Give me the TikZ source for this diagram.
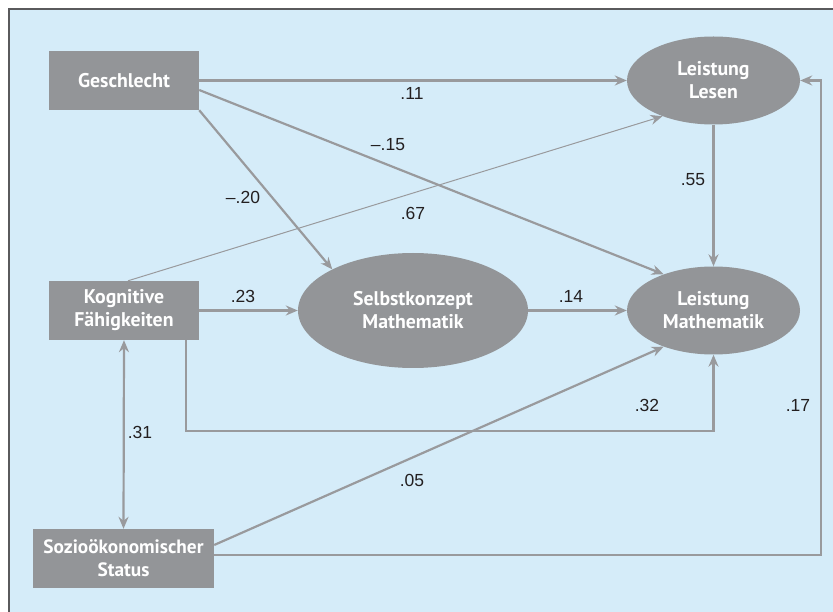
\documentclass[tikz,border=0pt]{standalone}
\usepackage{fontspec}
\setmainfont{Liberation Sans}
\newfontfamily\boxfont{PT Sans}
\usetikzlibrary{arrows.meta,shapes.geometric,calc}

\definecolor{bgblue}{HTML}{D5ECF9}
\definecolor{boxgray}{HTML}{939598}
\definecolor{linegray}{HTML}{999A9D}
\definecolor{numgray}{HTML}{231F20}
\definecolor{framegray}{HTML}{5A5A5C}

\tikzset{
  var/.style={rectangle, fill=boxgray, minimum width=150pt, minimum height=59pt,
    inner sep=0pt, text=white, align=center,
    font=\boxfont\bfseries\fontsize{19.8}{23}\selectfont},
  latent/.style={ellipse, fill=boxgray, inner sep=0pt, text=white, align=center,
    font=\boxfont\bfseries\fontsize{19.8}{23}\selectfont},
  effect/.style={draw=linegray, line width=2.2pt, ->},
  thineffect/.style={draw=linegray, line width=1pt, ->},
  coef/.style={text=numgray, inner sep=0pt, font=\fontsize{17.5}{20}\selectfont}
}

\begin{document}
\begin{tikzpicture}[x=1pt,y=-1pt,>={Stealth[length=12pt,width=10pt,inset=4pt]}]
  \useasboundingbox (0,0) rectangle (833,612);
  \fill[white] (0,0) rectangle (833,612);
  \fill[bgblue] (9,9) rectangle (833,612);
  \draw[framegray, line width=1.5pt] (9,612) -- (9,9) -- (833,9);

  % beobachtete Variablen
  \node[var] (ges) at (124,80.5) {Geschlecht};
  \node[var] (kog) at (124,310.5) {Kognitive\\Fähigkeiten};
  \node[var, minimum width=181pt, font=\boxfont\bfseries\fontsize{19.3}{23}\selectfont] (soz) at (123.5,558.5) {Sozioökonomischer\\Status};

  % latente Variablen
  \node[latent, minimum width=230pt, minimum height=115pt] (sel) at (413,310.5) {Selbstkonzept\\Mathematik};
  \node[latent, minimum width=173pt, minimum height=88pt] (les) at (713.5,80.5) {Leistung\\Lesen};
  \node[latent, minimum width=173pt, minimum height=88pt] (mat) at (713.5,310.5) {Leistung\\Mathematik};

  % Pfade
  \draw[effect] (ges.east) -- (les.west);
  \draw[effect] ([yshift=-9.5pt]ges.east) -- (mat.144);
  \draw[effect] (ges.south east) -- (sel.153);
  \draw[thineffect] ([xshift=4pt]kog.north) -- (les.215);
  \draw[effect] (kog.east) -- (sel.west);
  \draw[effect] (sel.east) -- (mat.west);
  \draw[effect] (les.south) -- (mat.north);
  \coordinate (kogout) at ([xshift=-13pt]kog.south east);
  \draw[effect] (kogout) -- (kogout |- 0,431) -| (mat.south);
  \draw[effect, <->] (kog.south) -- (soz.north);
  \draw[effect] ([yshift=13.5pt]soz.east) -- (mat.216);
  \coordinate (sozout) at ([yshift=3.5pt]soz.east);
  \draw[effect] (sozout) -| ($(les.east)+(21,0)$) -- (les.east);

  % Koeffizienten
  \node[coef] (c11) at (412,93) {.11};
  \node[coef] (c15) at (388,145) {–.15};
  \node[coef] (c20) at (243,197) {–.20};
  \node[coef] (c67) at (413,213) {.67};
  \node[coef] (c55) at (693,180) {.55};
  \node[coef] (c23) at (243,296) {.23};
  \node[coef] (c14) at (571,296) {.14};
  \node[coef] (c32) at (647,405) {.32};
  \node[coef] (c17) at (798,405) {.17};
  \node[coef] (c31) at (140,432) {.31};
  \node[coef] (c05) at (412,480) {.05};
\end{tikzpicture}
\end{document}
